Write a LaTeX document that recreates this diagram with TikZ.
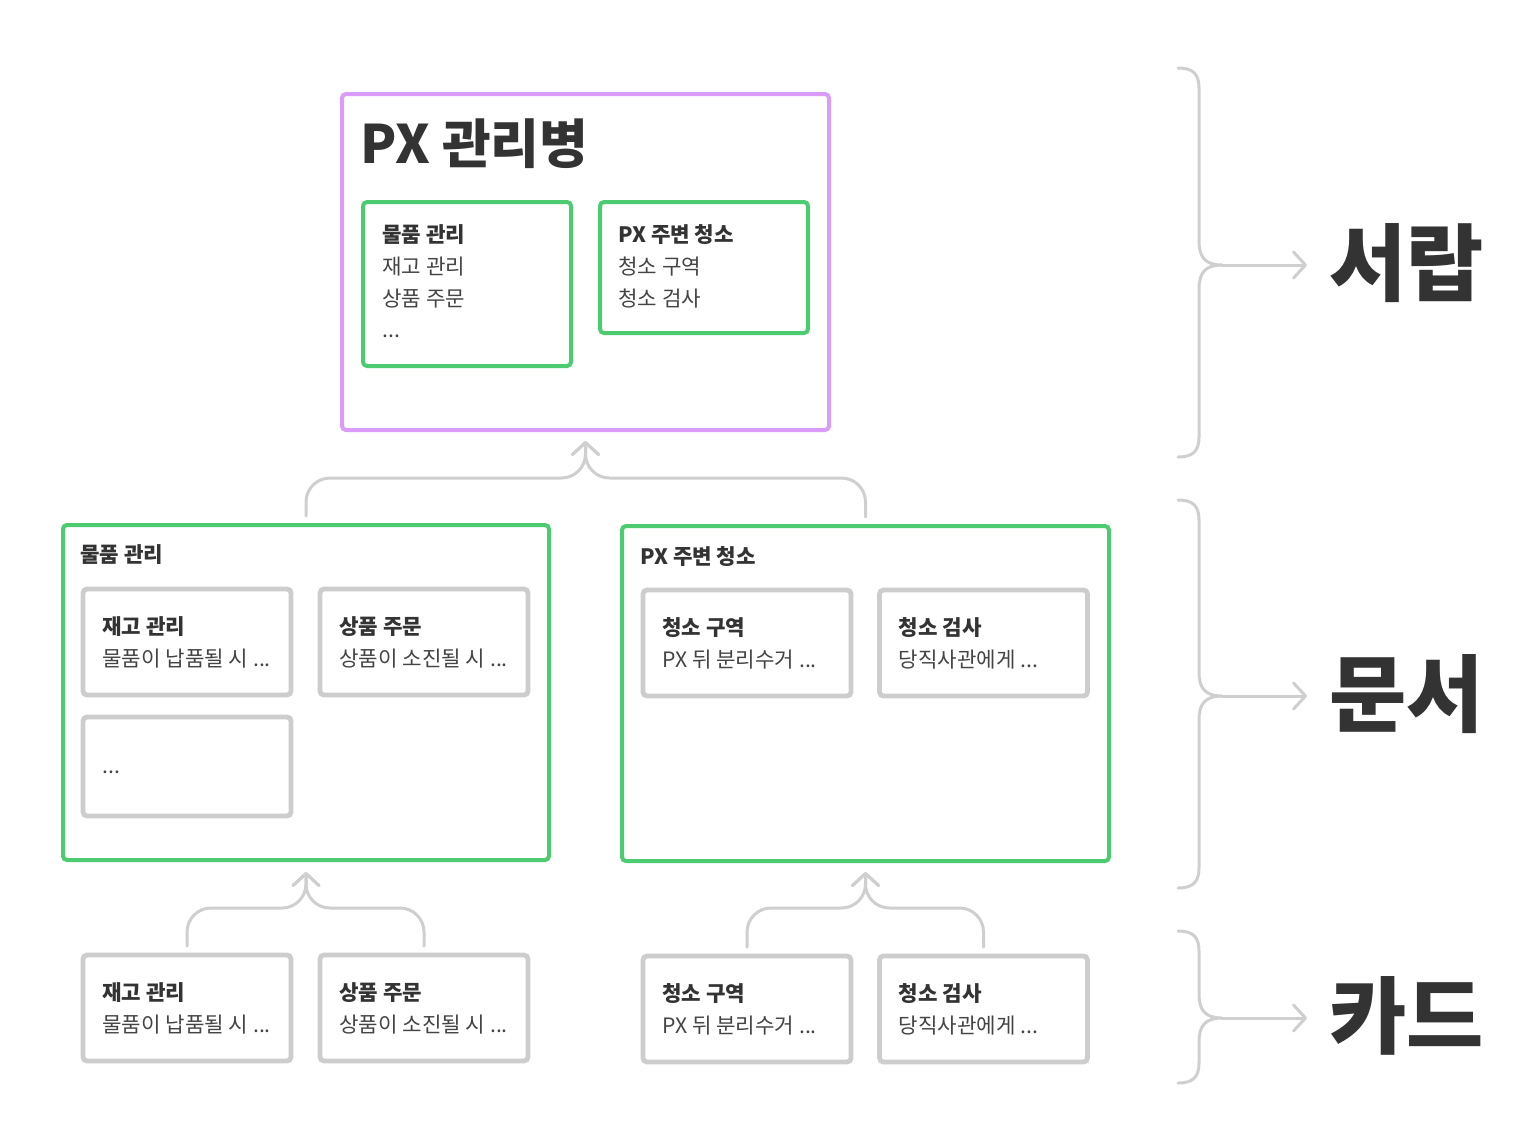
\documentclass[tikz,border=0pt]{standalone}
\usepackage{fontspec}
\setmainfont{Noto Sans CJK KR}
\usetikzlibrary{arrows.meta}
\definecolor{pur}{HTML}{DA9CF8}
\definecolor{grn}{HTML}{4DCB71}
\definecolor{gry}{HTML}{CDCDCD}
\definecolor{lgry}{HTML}{CFCFCF}
\definecolor{ink}{HTML}{333333}
\definecolor{ink2}{HTML}{444444}
\newcommand{\mycard}[5]{%
  \node[cbox, minimum width=104pt, minimum height=53pt] (#1) at (#2,#3) {};
  \node[tb] (#1-t) at (#2-85,#3-15) {#4};
  \node[tr] (#1-d) at (#2-85,#3+17) {#5};}
\newcommand{\mybrace}[3]{%
  \draw[brace] (1178,#1) .. controls (1193,#1) and (1199,#1+6) .. (1199,#1+20)
    -- (1199,#2-24) .. controls (1199,#2-8) and (1205,#2) .. (1222,#2)
    .. controls (1205,#2) and (1199,#2+8) .. (1199,#2+24)
    -- (1199,#3-20) .. controls (1199,#3-6) and (1193,#3) .. (1178,#3);}
\begin{document}
\begin{tikzpicture}[x=0.5pt,y=-0.5pt,
  frame/.style={draw=#1, line width=2pt, rounded corners=2pt, inner sep=0pt, outer sep=0pt},
  pbox/.style={frame=pur},
  gbox/.style={frame=grn},
  cbox/.style={frame=gry, line width=2.4pt},
  tb/.style={anchor=west, inner sep=0pt, text=ink, font=\fontsize{10.6}{13}\selectfont\bfseries},
  tr/.style={anchor=west, inner sep=0pt, text=ink2, font=\fontsize{10.6}{13}\selectfont},
  big/.style={anchor=west, inner sep=0pt, text=ink, font=\fontsize{42}{46}\selectfont\bfseries},
  conn/.style={draw=lgry, line width=1.5pt, rounded corners=12pt, line cap=round,
    -{Straight Barb[length=6pt,width=13pt,round]}},
  brace/.style={draw=lgry, line width=1.5pt, line cap=round},
]
\fill[white] (0,0) rectangle (1531,1125);
\useasboundingbox (0,0) rectangle (1531,1125);

\coordinate (hTop) at (0,478);
\coordinate (tipTop) at (585.5,441);
\coordinate (hL) at (0,908);
\coordinate (tipL) at (306,872);
\coordinate (hR) at (0,908);
\coordinate (tipR) at (865.5,872);

% top level (drawer)
\node[pbox, minimum width=243.5pt, minimum height=168pt] (P) at (585.5,262) {};
\node[anchor=base west, inner sep=0pt, text=ink, font=\fontsize{26.5}{31}\selectfont\bfseries] (title) at (360,163) {PX 관리병};
\node[gbox, minimum width=104pt, minimum height=82pt] (G1) at (467,284) {};
\node[gbox, minimum width=104pt, minimum height=65.5pt] (G2) at (704,267.5) {};
\node[tb] (g1a) at (382,235) {물품 관리};
\node[tr] (g1b) at (382,267) {재고 관리};
\node[tr] (g1c) at (382,299) {상품 주문};
\node[tr] (g1d) at (382,336) {...};
\node[tb] (g2a) at (618,235) {PX 주변 청소};
\node[tr] (g2b) at (618,267) {청소 구역};
\node[tr] (g2c) at (618,299) {청소 검사};

% documents
\node[gbox, minimum width=243pt, minimum height=167.5pt] (DL) at (306,692.5) {};
\node[gbox, minimum width=243.5pt, minimum height=167.5pt] (DR) at (865.5,693.5) {};
\node[tb] (DLt) at (80,555) {물품 관리};
\node[tb] (DRt) at (640,557) {PX 주변 청소};
\mycard{c11}{187}{642}{재고 관리}{물품이 납품될 시 ...}
\mycard{c12}{424}{642}{상품 주문}{상품이 소진될 시 ...}
\node[cbox, minimum width=104pt, minimum height=49.5pt] (c13) at (187,766.5) {};
\node[tr] (c13-d) at (102,772) {...};
\mycard{c21}{747}{643}{청소 구역}{PX 뒤 분리수거 ...}
\mycard{c22}{983.5}{643}{청소 검사}{당직사관에게 ...}

% cards
\mycard{b1}{187}{1008}{재고 관리}{물품이 납품될 시 ...}
\mycard{b2}{424}{1008}{상품 주문}{상품이 소진될 시 ...}
\mycard{b3}{747}{1009}{청소 구역}{PX 뒤 분리수거 ...}
\mycard{b4}{983.5}{1009}{청소 검사}{당직사관에게 ...}

% merging connectors
\draw[conn, shorten <=4.5pt] (DL.north) -- (DL.north |- hTop) -- (tipTop |- hTop) -- (tipTop);
\draw[conn, shorten <=4.5pt] (DR.north) -- (DR.north |- hTop) -- (tipTop |- hTop) -- (tipTop);
\draw[conn, shorten <=4.5pt] (b1.north) -- (b1.north |- hL) -- (tipL |- hL) -- (tipL);
\draw[conn, shorten <=4.5pt] (b2.north) -- (b2.north |- hL) -- (tipL |- hL) -- (tipL);
\draw[conn, shorten <=4.5pt] (b3.north) -- (b3.north |- hR) -- (tipR |- hR) -- (tipR);
\draw[conn, shorten <=4.5pt] (b4.north) -- (b4.north |- hR) -- (tipR |- hR) -- (tipR);

% braces and level labels
\mybrace{68}{265}{457}
\mybrace{500}{696}{888}
\mybrace{931}{1018}{1083}
\coordinate (j1) at (1222,265);
\coordinate (j2) at (1222,696);
\coordinate (j3) at (1222,1018);
\node[big] (L1) at (1329,263) {서랍};
\node[big] (L2) at (1329,694) {문서};
\node[big] (L3) at (1329,1016) {카드};
\draw[conn, rounded corners=0pt, shorten >=11pt] (j1) -- (j1 -| L1.west);
\draw[conn, rounded corners=0pt, shorten >=11pt] (j2) -- (j2 -| L2.west);
\draw[conn, rounded corners=0pt, shorten >=11pt] (j3) -- (j3 -| L3.west);
\end{tikzpicture}
\end{document}
